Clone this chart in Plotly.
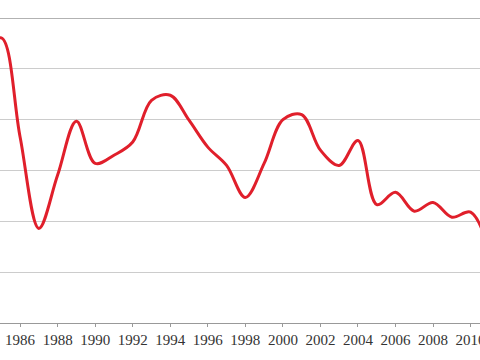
import plotly.graph_objects as go

years = list(range(1984, 2012))
values = [52.7, 56.1, 36.6, 18.6, 29.1, 39.7, 31.4, 33.0, 35.6, 43.8, 44.8, 39.9,
          34.6, 31.0, 24.7, 31.4, 40.0, 41.0, 34.0, 31.0, 35.9, 23.3, 25.7, 22.0,
          23.7, 20.8, 21.8, 14.3]
tick_years = list(range(1986, 2012, 2))
tick_labels = [str(y) for y in tick_years]

fig = go.Figure()
fig.add_trace(go.Scatter(
    x=years, y=values, mode="lines",
    line=dict(color="#e01f2b", width=3, shape="spline", smoothing=1.0),
    hoverinfo="skip", showlegend=False, cliponaxis=True,
))

fig.add_shape(type="line", xref="paper", yref="y", x0=0, x1=1, y0=60, y1=60,
              line=dict(color="#999999", width=1.5), layer="below")

fig.update_layout(
    width=480, height=360,
    margin=dict(l=0, r=0, t=18, b=37, pad=0, autoexpand=False),
    paper_bgcolor="white", plot_bgcolor="white",
    xaxis=dict(
        range=[1984.93, 2010.5], tickmode="array", tickvals=tick_years, ticktext=tick_labels,
        showgrid=False, zeroline=False, showline=True, linecolor="#999999", linewidth=1,
        ticks="outside", ticklen=3, tickcolor="#999999", automargin=False,
        ticklabeloverflow="allow",
        tickfont=dict(family="Liberation Serif", size=15, color="#333333"),
    ),
    yaxis=dict(
        range=[0, 60], tickvals=[0, 10, 20, 30, 40, 50, 60], showticklabels=False,
        showgrid=True, gridcolor="#cccccc", gridwidth=1, zeroline=False, showline=False,
        automargin=False,
    ),
)

fig.write_html("out.html", config={"displayModeBar": False},
               post_script="document.body.style.margin='0px';document.body.style.overflow='hidden';")
